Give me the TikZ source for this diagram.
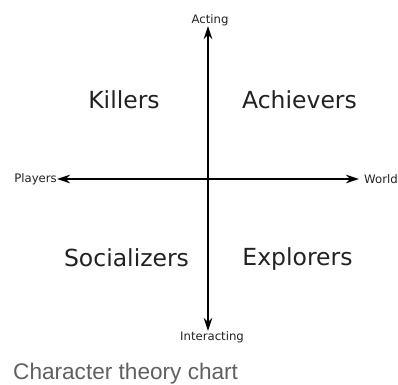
\documentclass[tikz,border=0pt]{standalone}
\usepackage{fontspec}
\setmainfont{DejaVu Sans}
\newfontfamily\capfont{Liberation Sans}
\usetikzlibrary{arrows.meta}
\definecolor{txt}{HTML}{222222}
\definecolor{captxt}{HTML}{606060}
\tikzset{
  tip/.style={Stealth[length=13pt,width=8.5pt,inset=4pt]},
  axis/.style={line width=1.5pt, black, {Stealth[length=13pt,width=8.5pt,inset=4pt]}-{Stealth[length=13pt,width=8.5pt,inset=4pt]}},
  quad/.style={font=\fontsize{23.5}{26}\selectfont, text=txt, anchor=base, inner sep=0pt},
  axlabel/.style={font=\fontsize{11.7}{13}\selectfont, text=txt, inner sep=0pt},
}
\begin{document}
\begin{tikzpicture}[x=1pt,y=-1pt]
\useasboundingbox[fill=white] (0,0) rectangle (398,384);
\coordinate (top) at (208,26);
\coordinate (bot) at (208,331);
\coordinate (lft) at (57,179);
\coordinate (rgt) at (359,179);
\draw[axis] (bot) -- (top);
\draw[axis] (lft) -- (rgt);
\node[axlabel, anchor=base] (acting) at (210,23) {Acting};
\node[axlabel, anchor=base] (interacting) at (212,340) {Interacting};
\node[axlabel, anchor=east] (players) at (57,179.5) {Players};
\node[axlabel, anchor=west] (world) at (364,179.5) {World};
\node[quad] (killers) at (124,108) {Killers};
\node[quad] (achievers) at (299.5,108) {Achievers};
\node[quad] (socializers) at (126.5,266) {Socializers};
\node[quad] (explorers) at (297.5,265) {Explorers};
\node[font=\capfont\fontsize{22.6}{25}\selectfont, text=captxt, anchor=base west, inner sep=0pt] (caption) at (13,379) {Character theory chart};
\end{tikzpicture}
\end{document}
